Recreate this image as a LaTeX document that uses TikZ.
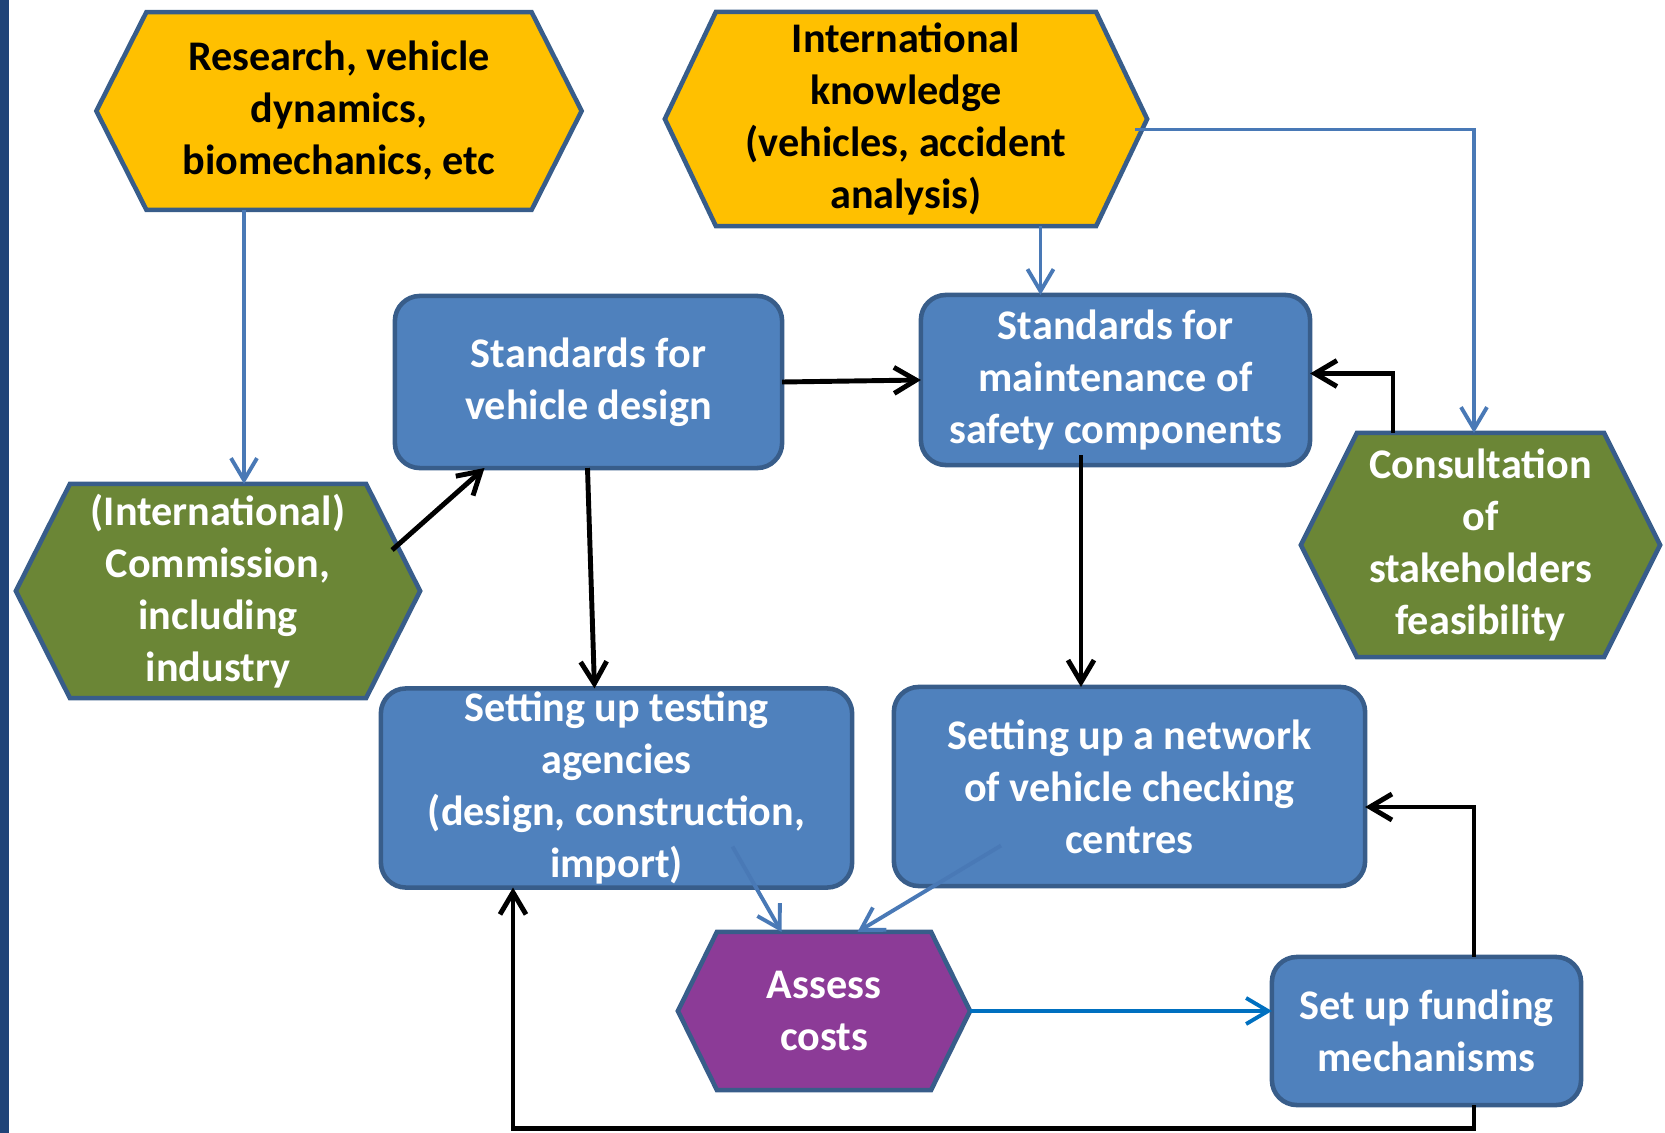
\documentclass[tikz,border=0pt]{standalone}
\usepackage{fontspec}
\setmainfont{Carlito}
\usetikzlibrary{arrows.meta, calc, positioning, backgrounds}
\definecolor{barBlue}{HTML}{1F4478}
\definecolor{boxBlue}{HTML}{4F81BD}
\definecolor{lineBlue}{HTML}{4979B6}
\definecolor{edgeBlue}{HTML}{385D8A}
\definecolor{sunYellow}{HTML}{FFC000}
\definecolor{oliveGreen}{HTML}{6B8636}
\definecolor{costPurple}{HTML}{8C3B97}
\definecolor{flowBlue}{HTML}{0070C0}
\newcommand{\flowFont}{\bfseries\fontsize{12pt}{14.8pt}\selectfont}
\tikzset{
    hexNode/.style={rectangle, inner sep=0pt, outer sep=0pt, align=center, font=\flowFont},
    stdBox/.style={rectangle, rounded corners=0.25cm, draw=edgeBlue, line width=1.3pt, fill=boxBlue, text=white, inner sep=0pt, outer sep=0pt, align=center, font=\flowFont},
    hexLine/.style={draw=edgeBlue, line width=1.3pt, line join=miter},
    linkBlack/.style={->, >={Straight Barb[length=2.2mm, width=2.6mm]}, line width=1.4pt, black},
    linkBlue/.style={->, >={Straight Barb[length=2.2mm, width=2.6mm]}, line width=1.1pt, lineBlue},
    linkCost/.style={linkBlue, flowBlue},
}
\newcommand{\drawHex}[3]{
    % #1 node, #2 depth of the tips, #3 fill
    \draw[hexLine, fill=#3] ($(#1.north west)+(#2,0)$) -- ($(#1.north east)+(-#2,0)$) -- (#1.east)
        -- ($(#1.south east)+(-#2,0)$) -- ($(#1.south west)+(#2,0)$) -- (#1.west) -- cycle;
}

\begin{document}
\begin{tikzpicture}[x=0.01cm, y=-0.01cm]
    \useasboundingbox (0,0) rectangle (1665,1133);
    \fill[barBlue] (0,0) rectangle (9,1133);

    % sources
    \node[hexNode, minimum width=4.85cm, minimum height=1.975cm] (research) at (339,111) {Research, vehicle\\dynamics,\\biomechanics, etc};
    \node[hexNode, minimum width=4.82cm, minimum height=2.14cm] (intl) at (906,119) {International\\knowledge\\(vehicles, accident\\analysis)};
    \node[hexNode, text=white, minimum width=4.04cm, minimum height=2.14cm] (commission) at (218,591) {(International)\\Commission,\\including\\industry};
    \node[hexNode, text=white, minimum width=3.59cm, minimum height=2.24cm] (consult) at (1480.5,545) {Consultation\\of\\stakeholders\\feasibility};
    \node[hexNode, text=white, minimum width=2.92cm, minimum height=1.58cm] (assess) at (824,1011) {Assess\\costs};

    % standards and set-up
    \node[stdBox, minimum width=3.87cm, minimum height=1.72cm] (design) at (588.5,382) {Standards for\\vehicle design};
    \node[stdBox, minimum width=3.89cm, minimum height=1.70cm] (maint) at (1115.5,380) {Standards for\\maintenance of\\safety components};
    \node[stdBox, minimum width=4.71cm, minimum height=1.99cm] (test) at (616.5,788) {Setting up testing\\agencies\\(design, construction,\\import)};
    \node[stdBox, minimum width=4.71cm, minimum height=1.99cm] (network) at (1129.5,786.5) {Setting up a network\\of vehicle checking\\centres};
    \node[stdBox, minimum width=3.09cm, minimum height=1.48cm] (funding) at (1426.5,1031) {Set up funding\\mechanisms};

    \begin{scope}[on background layer]
        \drawHex{research}{50}{sunYellow}
        \drawHex{intl}{51}{sunYellow}
        \drawHex{commission}{54}{oliveGreen}
        \drawHex{consult}{56}{oliveGreen}
        \drawHex{assess}{39}{costPurple}
    \end{scope}

    % links
    \draw[linkBlue] ($(research.south)+(-95,0)$) -- ($(commission.north)+(26,0)$);
    \draw[linkBlue] ($(intl.south)+(134.5,0)$) -- ($(maint.north)+(-75,0)$);
    \draw[linkBlue] ($(intl.east)+(-12,10.5)$) -| ($(consult.north)+(-6.5,0)$);
    \draw[linkBlack] (design.east) -- (maint.west);
    \draw[linkBlack] ($(commission.east)+(-28,-41)$) -- ($(design.south)+(-104,0)$);
    \draw[linkBlack] ($(design.south)+(-1,0)$) -- ($(test.north)+(-22,0)$);
    \draw[linkBlack] ($(maint.south)+(-34.5,-10)$) -- ($(network.north)+(-48.5,0)$);
    \draw[linkBlack] ($(consult.north)+(-87.5,0)$) |- ($(maint.east)+(0,-6.5)$);
    \draw[linkBlue] ($(test.south)+(116,-41)$) -- ($(assess.north)+(-42.5,0)$);
    \draw[linkBlue] ($(network.south)+(-128.5,-40.5)$) -- ($(assess.north)+(33.5,0)$);
    \draw[linkCost] (assess.east) -- (assess.east -| funding.west);
    \draw[linkBlack] ($(funding.north)+(47.5,0)$) |- ($(network.east)+(0,20.5)$);
    \draw[linkBlack] ($(funding.south)+(47.5,0)$) -- ++(0,23) -| ($(test.south)+(-103.5,0)$);

\end{tikzpicture}
\end{document}
